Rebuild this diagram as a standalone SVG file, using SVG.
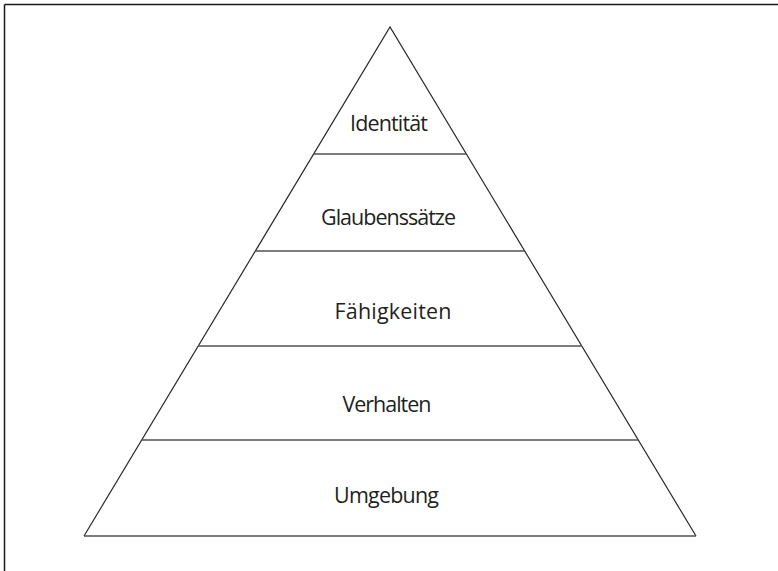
<svg xmlns="http://www.w3.org/2000/svg" width="778" height="571" viewBox="0 0 778 571">
<style>
.frame{stroke:#1a1a1a;stroke-width:1.5;fill:none}
.edge{stroke:#2a2a2a;stroke-width:1.2;fill:none}
.div{stroke:#505050;stroke-width:1.4;fill:none}
text{font-family:"Open Sans","Liberation Sans",sans-serif;font-size:21.5px;fill:#231f20;text-anchor:middle}
</style>
<rect width="778" height="571" fill="#fff"/>
<g id="frame">
<line class="frame" x1="4.5" y1="4.5" x2="778" y2="4.5"/>
<line class="frame" x1="4.5" y1="4.5" x2="4.5" y2="571"/>
</g>
<g id="pyramid">
<polyline class="edge" points="84,536 390,27 696,536"/>
<line class="div" x1="84" y1="536" x2="696" y2="536"/>
</g>
<g id="connectors">
<line class="div" x1="314" y1="154" x2="466" y2="154"/>
<line class="div" x1="255" y1="251" x2="525" y2="251"/>
<line class="div" x1="198" y1="346" x2="582" y2="346"/>
<line class="div" x1="142" y1="440" x2="638" y2="440"/>
</g>
<g id="identitaet"><text x="389" y="131" textLength="78" lengthAdjust="spacing">Identität</text></g>
<g id="glaubenssaetze"><text x="388.5" y="225" textLength="135" lengthAdjust="spacing">Glaubenssätze</text></g>
<g id="faehigkeiten"><text x="393" y="318.5" textLength="117" lengthAdjust="spacing">Fähigkeiten</text></g>
<g id="verhalten"><text x="387" y="412" textLength="89" lengthAdjust="spacing">Verhalten</text></g>
<g id="umgebung"><text x="386.5" y="503" textLength="105" lengthAdjust="spacing">Umgebung</text></g>
</svg>
